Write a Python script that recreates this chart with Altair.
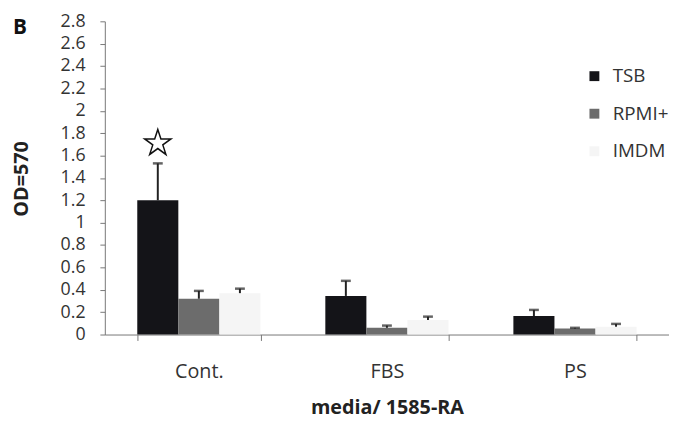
import altair as alt
import pandas as pd

categories = ["Cont.", "FBS", "PS"]
series = ["TSB", "RPMI+", "IMDM"]
colors = ["#141418", "#6c6c6c", "#f5f5f5"]

tsb = [1.20, 0.345, 0.165]
tsb_err = [0.33, 0.135, 0.055]
rpmi = [0.32, 0.06, 0.053]
rpmi_err = [0.07, 0.02, 0.007]
imdm = [0.37, 0.13, 0.07]
imdm_err = [0.04, 0.03, 0.025]

star_category = "Cont."
star_series = "TSB"
star_value = 1.71

y_ticks = [0, 0.2, 0.4, 0.6, 0.8, 1, 1.2, 1.4, 1.6, 1.8, 2, 2.2, 2.4, 2.6, 2.8]

STAR_PATH = ("M0,-1L0.225,-0.309L0.951,-0.309L0.363,0.118L0.588,0.809L0,0.382"
             "L-0.588,0.809L-0.363,0.118L-0.951,-0.309L-0.225,-0.309Z")

rows = []
for s, vals, errs in [("TSB", tsb, tsb_err), ("RPMI+", rpmi, rpmi_err), ("IMDM", imdm, imdm_err)]:
    for c, v, e in zip(categories, vals, errs):
        rows.append({"media": c, "series": s, "value": v, "top": round(v + e, 4)})
df = pd.DataFrame(rows)

star_df = pd.DataFrame([{"media": star_category, "series": star_series, "value": star_value}])
panel_df = pd.DataFrame([{"t": "B"}])

FONT = "Open Sans"

x_enc = alt.X(
    "media:N",
    sort=categories,
    scale=alt.Scale(paddingInner=0.345, paddingOuter=0.1725),
    axis=alt.Axis(
        title="media/ 1585-RA",
        titleFontSize=20,
        titleFontWeight="bold",
        titleColor="#222",
        titlePadding=16,
        labelAngle=0,
        labelFontSize=20,
        labelColor="#333",
        labelPadding=22,
        tickBand="extent",
        tickSize=6,
        tickColor="#777",
        domainColor="#777",
        grid=False,
    ),
)
xoff_enc = alt.XOffset("series:N", sort=series, scale=alt.Scale(paddingInner=0, paddingOuter=0))
y_scale = alt.Scale(domain=[0, 2.8], nice=False)

y_axis = alt.Axis(
    title="OD=570",
    titleFontSize=20,
    titleFontWeight="bold",
    titleColor="#222",
    titleAngle=270,
    titleX=-84,
    titleY=159,
    titleAlign="center",
    titleBaseline="middle",
    values=y_ticks,
    format="~g",
    labelFontSize=18,
    labelColor="#333",
    labelPadding=15,
    tickSize=5,
    tickColor="#777",
    domainColor="#777",
    grid=False,
)

bars = alt.Chart(df).mark_bar().encode(
    x=x_enc,
    xOffset=xoff_enc,
    y=alt.Y("value:Q", scale=y_scale, axis=y_axis),
    color=alt.Color(
        "series:N",
        sort=series,
        scale=alt.Scale(domain=series, range=colors),
        legend=alt.Legend(
            title=None,
            orient="none",
            legendX=486,
            legendY=46,
            symbolType="square",
            symbolSize=100,
            symbolStrokeWidth=0,
            labelFontSize=19,
            labelColor="#333",
            labelOffset=9,
            labelLimit=200,
            rowPadding=18,
            padding=0,
        ),
    ),
)

rules = alt.Chart(df).mark_rule(color="#222", strokeWidth=2).encode(
    x=x_enc,
    xOffset=xoff_enc,
    y=alt.Y("value:Q", scale=y_scale, axis=y_axis),
    y2="top:Q",
)

caps = alt.Chart(df).mark_tick(color="#222", thickness=2.5, size=10).encode(
    x=x_enc,
    xOffset=xoff_enc,
    y=alt.Y("top:Q", scale=y_scale, axis=y_axis),
)

star = alt.Chart(star_df).mark_point(
    shape=STAR_PATH, filled=False, color="#111", strokeWidth=1.5, size=784, opacity=1
).encode(
    x=x_enc,
    xOffset=xoff_enc,
    y=alt.Y("value:Q", scale=y_scale, axis=y_axis),
)

panel = alt.Chart(panel_df).mark_text(
    fontSize=21, fontWeight="bold", font=FONT, color="#111", align="center", baseline="middle"
).encode(text="t:N", x=alt.value(-86), y=alt.value(7))

chart = alt.layer(bars, rules, caps, star, panel).properties(
    width=571,
    height=317,
    autosize=alt.AutoSizeParams(type="none"),
    padding={"left": 98, "top": 11, "right": 0, "bottom": 82},
).configure(
    font=FONT,
).configure_view(
    stroke=None
)

chart.save("out.html", embed_options={"renderer": "svg", "actions": False})
